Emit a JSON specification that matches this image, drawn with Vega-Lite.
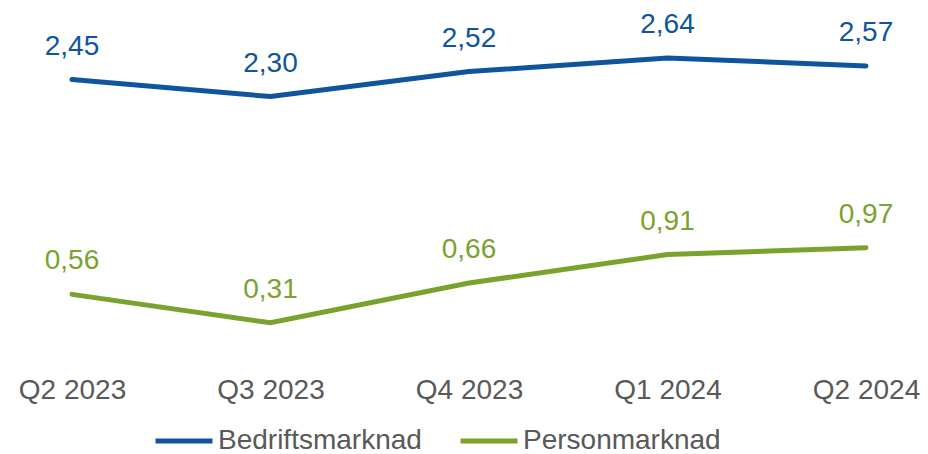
{
  "$schema": "https://vega.github.io/schema/vega-lite/v6.json",
  "width": 928,
  "height": 358,
  "autosize": {"type": "none"},
  "padding": {"left": 0, "top": 0, "right": 0, "bottom": 96},
  "config": {
    "view": {"stroke": null},
    "font": "Liberation Sans",
    "locale": {"number": {"decimal": ",", "thousands": " ", "grouping": [3], "currency": ["", " kr"]}}
  },
  "data": {
    "values": [
      {"q": "Q2 2023", "s": "Bedriftsmarknad", "v": 2.45},
      {"q": "Q3 2023", "s": "Bedriftsmarknad", "v": 2.30},
      {"q": "Q4 2023", "s": "Bedriftsmarknad", "v": 2.52},
      {"q": "Q1 2024", "s": "Bedriftsmarknad", "v": 2.64},
      {"q": "Q2 2024", "s": "Bedriftsmarknad", "v": 2.57},
      {"q": "Q2 2023", "s": "Personmarknad", "v": 0.56},
      {"q": "Q3 2023", "s": "Personmarknad", "v": 0.31},
      {"q": "Q4 2023", "s": "Personmarknad", "v": 0.66},
      {"q": "Q1 2024", "s": "Personmarknad", "v": 0.91},
      {"q": "Q2 2024", "s": "Personmarknad", "v": 0.97}
    ]
  },
  "encoding": {
    "x": {
      "field": "q", "type": "ordinal",
      "sort": ["Q2 2023", "Q3 2023", "Q4 2023", "Q1 2024", "Q2 2024"],
      "scale": {"type": "point", "range": [72, 866], "padding": 0},
      "axis": {"title": null, "domain": false, "ticks": false, "labelAngle": 0, "labelFontSize": 28, "labelColor": "#595959", "labelPadding": 18, "labelFont": "Liberation Sans"}
    },
    "y": {
      "field": "v", "type": "quantitative",
      "scale": {"domain": [0, 3.15], "nice": false, "zero": true},
      "axis": null
    },
    "color": {
      "field": "s", "type": "nominal",
      "scale": {"domain": ["Bedriftsmarknad", "Personmarknad"], "range": ["#0F559E", "#7BA22F"]}
    }
  },
  "layer": [
    {
      "mark": {"type": "line", "strokeWidth": 5, "strokeCap": "round", "strokeJoin": "miter"},
      "encoding": {
        "color": {
          "field": "s", "type": "nominal",
          "scale": {"domain": ["Bedriftsmarknad", "Personmarknad"], "range": ["#0F559E", "#7BA22F"]},
          "legend": {
            "title": null, "orient": "none", "legendX": 153, "legendY": 410, "direction": "horizontal",
            "symbolType": "stroke", "symbolSize": 3249, "symbolStrokeWidth": 5,
            "labelFontSize": 28, "labelColor": "#595959", "labelOffset": 3, "columnPadding": 28,
            "labelFont": "Liberation Sans", "labelLimit": 400
          }
        }
      }
    },
    {
      "mark": {"type": "text", "dy": -33, "fontSize": 28, "font": "Liberation Sans", "baseline": "middle"},
      "encoding": {
        "text": {"field": "v", "type": "quantitative", "format": ".2f"}
      }
    }
  ]
}
